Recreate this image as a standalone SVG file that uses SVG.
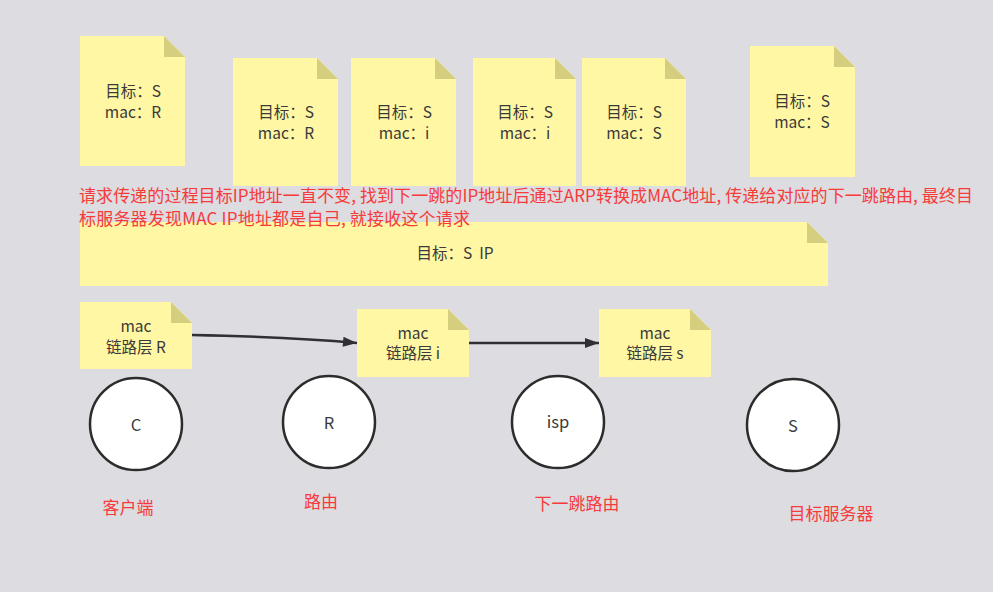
<svg xmlns="http://www.w3.org/2000/svg" width="993" height="592" viewBox="0 0 993 592">
<defs>
<style>
.note{fill:#fff7a3;}
.fold{fill:#d6ce7f;}
.t{font-family:"Noto Sans CJK SC","Liberation Sans",sans-serif;font-size:15.5px;fill:#3a3a3a;text-anchor:middle;}
.c{font-family:"Noto Sans CJK SC","Liberation Sans",sans-serif;font-size:16.5px;fill:#3a3a3a;text-anchor:middle;}
.red{font-family:"Noto Sans CJK SC","Liberation Sans",sans-serif;font-size:17px;fill:#f73a3a;}
.circ{fill:#ffffff;stroke:#2c2c2c;stroke-width:2.5;}
.conn{fill:none;stroke:#2f2f35;stroke-width:2.5;}
</style>
<marker id="ah" viewBox="0 0 14 10" refX="14" refY="5" markerWidth="15" markerHeight="10" markerUnits="userSpaceOnUse" orient="auto">
<path d="M0,0 L14,5 L0,10 z" fill="#2f2f35"/>
</marker>
</defs>
<rect width="993" height="592" fill="#dcdce1"/>

<g id="note1">
<path class="note" d="M80,36 H164 L185,57 V166 H80 Z"/>
<path class="fold" d="M164,36 L185,57 H164 Z"/>
<text class="t" x="133" y="97">目标：S</text>
<text class="t" x="133" y="118">mac：R</text>
</g>
<g id="note2">
<path class="note" d="M233,58 H317 L338,79 V186 H233 Z"/>
<path class="fold" d="M317,58 L338,79 H317 Z"/>
<text class="t" x="286" y="118">目标：S</text>
<text class="t" x="286" y="139">mac：R</text>
</g>
<g id="note3">
<path class="note" d="M351,58 H435 L456,79 V186 H351 Z"/>
<path class="fold" d="M435,58 L456,79 H435 Z"/>
<text class="t" x="404" y="118">目标：S</text>
<text class="t" x="404" y="139">mac：i</text>
</g>
<g id="note4">
<path class="note" d="M473,58 H555 L576,79 V186 H473 Z"/>
<path class="fold" d="M555,58 L576,79 H555 Z"/>
<text class="t" x="525" y="118">目标：S</text>
<text class="t" x="525" y="139">mac：i</text>
</g>
<g id="note5">
<path class="note" d="M582,58 H665 L686,79 V186 H582 Z"/>
<path class="fold" d="M665,58 L686,79 H665 Z"/>
<text class="t" x="634" y="118">目标：S</text>
<text class="t" x="634" y="139">mac：S</text>
</g>
<g id="note6">
<path class="note" d="M750,46 H834 L855,67 V177 H750 Z"/>
<path class="fold" d="M834,46 L855,67 H834 Z"/>
<text class="t" x="802" y="107">目标：S</text>
<text class="t" x="802" y="128">mac：S</text>
</g>

<g id="note-ip">
<path class="note" d="M80,222 H807 L828,243 V286 H80 Z"/>
<path class="fold" d="M807,222 L828,243 H807 Z"/>
<text class="t" x="455" y="259">目标：S&#160; IP</text>
</g>

<g id="description">
<text class="red" x="79" y="202" textLength="894" lengthAdjust="spacing">请求传递的过程目标IP地址一直不变, 找到下一跳的IP地址后通过ARP转换成MAC地址, 传递给对应的下一跳路由, 最终目</text>
<text class="red" x="79" y="225" textLength="391" lengthAdjust="spacing">标服务器发现MAC IP地址都是自己, 就接收这个请求</text>
</g>

<g id="macR">
<path class="note" d="M80,302 H171 L192,323 V369 H80 Z"/>
<path class="fold" d="M171,302 L192,323 H171 Z"/>
<text class="t" x="136" y="332">mac</text>
<text class="t" x="136" y="353">链路层 R</text>
</g>
<g id="maci">
<path class="note" d="M357,309 H448 L469,330 V377 H357 Z"/>
<path class="fold" d="M448,309 L469,330 H448 Z"/>
<text class="t" x="413" y="339">mac</text>
<text class="t" x="413" y="359">链路层 i</text>
</g>
<g id="macs">
<path class="note" d="M599,309 H690 L711,330 V377 H599 Z"/>
<path class="fold" d="M690,309 L711,330 H690 Z"/>
<text class="t" x="655" y="339">mac</text>
<text class="t" x="655" y="359">链路层 s</text>
</g>

<g id="connectors">
<path class="conn" d="M192,335 Q290,337 357,343" marker-end="url(#ah)"/>
<path class="conn" d="M469,343 L599,343" marker-end="url(#ah)"/>
</g>

<g id="nodeC">
<circle class="circ" cx="136" cy="424" r="46"/>
<text class="c" x="136" y="431">C</text>
</g>
<g id="nodeR">
<circle class="circ" cx="329" cy="422" r="46"/>
<text class="c" x="329" y="429">R</text>
</g>
<g id="nodeISP">
<circle class="circ" cx="558" cy="422" r="46"/>
<text class="c" x="558" y="428">isp</text>
</g>
<g id="nodeS">
<circle class="circ" cx="793" cy="425" r="46"/>
<text class="c" x="793" y="432">S</text>
</g>

<g id="labels">
<text class="red" x="128" y="514" text-anchor="middle">客户端</text>
<text class="red" x="321" y="508" text-anchor="middle">路由</text>
<text class="red" x="577" y="510" text-anchor="middle">下一跳路由</text>
<text class="red" x="831" y="520" text-anchor="middle">目标服务器</text>
</g>
</svg>
